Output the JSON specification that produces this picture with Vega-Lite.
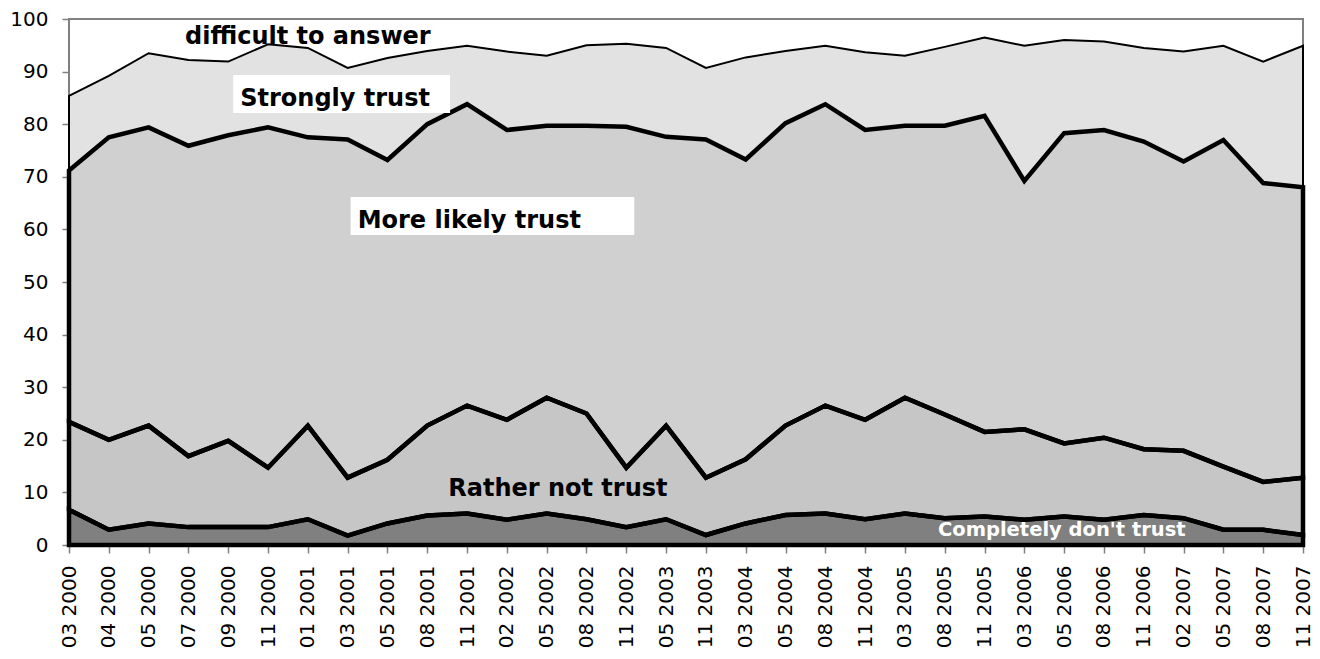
{
"$schema": "https://vega.github.io/schema/vega-lite/v6.json",
"width": 1234, "height": 526,
"autosize": "none",
"padding": {"left": 69, "top": 19, "right": 17, "bottom": 114},
"background": "white",
"config": {"font": "DejaVu Sans", "view": {"stroke": "#808080", "strokeWidth": 2}},
"data": {"values": [
{"d":"03 2000","c":"Completely don't trust","k":1,"v":6.7},{"d":"03 2000","c":"Rather not trust","k":2,"v":16.7},{"d":"03 2000","c":"More likely trust","k":3,"v":47.8},{"d":"03 2000","c":"Strongly trust","k":4,"v":14.2},{"d":"03 2000","c":"Difficult to answer","k":5,"v":14.6},
{"d":"04 2000","c":"Completely don't trust","k":1,"v":2.9},{"d":"04 2000","c":"Rather not trust","k":2,"v":17.1},{"d":"04 2000","c":"More likely trust","k":3,"v":57.5},{"d":"04 2000","c":"Strongly trust","k":4,"v":11.7},{"d":"04 2000","c":"Difficult to answer","k":5,"v":10.8},
{"d":"05 2000","c":"Completely don't trust","k":1,"v":4.1},{"d":"05 2000","c":"Rather not trust","k":2,"v":18.6},{"d":"05 2000","c":"More likely trust","k":3,"v":56.7},{"d":"05 2000","c":"Strongly trust","k":4,"v":14.1},{"d":"05 2000","c":"Difficult to answer","k":5,"v":6.5},
{"d":"07 2000","c":"Completely don't trust","k":1,"v":3.4},{"d":"07 2000","c":"Rather not trust","k":2,"v":13.5},{"d":"07 2000","c":"More likely trust","k":3,"v":59.0},{"d":"07 2000","c":"Strongly trust","k":4,"v":16.3},{"d":"07 2000","c":"Difficult to answer","k":5,"v":7.8},
{"d":"09 2000","c":"Completely don't trust","k":1,"v":3.4},{"d":"09 2000","c":"Rather not trust","k":2,"v":16.4},{"d":"09 2000","c":"More likely trust","k":3,"v":58.1},{"d":"09 2000","c":"Strongly trust","k":4,"v":14.0},{"d":"09 2000","c":"Difficult to answer","k":5,"v":8.1},
{"d":"11 2000","c":"Completely don't trust","k":1,"v":3.4},{"d":"11 2000","c":"Rather not trust","k":2,"v":11.3},{"d":"11 2000","c":"More likely trust","k":3,"v":64.7},{"d":"11 2000","c":"Strongly trust","k":4,"v":15.8},{"d":"11 2000","c":"Difficult to answer","k":5,"v":4.8},
{"d":"01 2001","c":"Completely don't trust","k":1,"v":4.9},{"d":"01 2001","c":"Rather not trust","k":2,"v":17.8},{"d":"01 2001","c":"More likely trust","k":3,"v":54.8},{"d":"01 2001","c":"Strongly trust","k":4,"v":17.0},{"d":"01 2001","c":"Difficult to answer","k":5,"v":5.5},
{"d":"03 2001","c":"Completely don't trust","k":1,"v":1.8},{"d":"03 2001","c":"Rather not trust","k":2,"v":11.0},{"d":"03 2001","c":"More likely trust","k":3,"v":64.3},{"d":"03 2001","c":"Strongly trust","k":4,"v":13.6},{"d":"03 2001","c":"Difficult to answer","k":5,"v":9.3},
{"d":"05 2001","c":"Completely don't trust","k":1,"v":4.1},{"d":"05 2001","c":"Rather not trust","k":2,"v":12.1},{"d":"05 2001","c":"More likely trust","k":3,"v":57.0},{"d":"05 2001","c":"Strongly trust","k":4,"v":19.4},{"d":"05 2001","c":"Difficult to answer","k":5,"v":7.4},
{"d":"08 2001","c":"Completely don't trust","k":1,"v":5.6},{"d":"08 2001","c":"Rather not trust","k":2,"v":17.1},{"d":"08 2001","c":"More likely trust","k":3,"v":57.3},{"d":"08 2001","c":"Strongly trust","k":4,"v":13.9},{"d":"08 2001","c":"Difficult to answer","k":5,"v":6.1},
{"d":"11 2001","c":"Completely don't trust","k":1,"v":6.0},{"d":"11 2001","c":"Rather not trust","k":2,"v":20.5},{"d":"11 2001","c":"More likely trust","k":3,"v":57.3},{"d":"11 2001","c":"Strongly trust","k":4,"v":11.1},{"d":"11 2001","c":"Difficult to answer","k":5,"v":5.1},
{"d":"02 2002","c":"Completely don't trust","k":1,"v":4.8},{"d":"02 2002","c":"Rather not trust","k":2,"v":19.0},{"d":"02 2002","c":"More likely trust","k":3,"v":55.1},{"d":"02 2002","c":"Strongly trust","k":4,"v":14.9},{"d":"02 2002","c":"Difficult to answer","k":5,"v":6.2},
{"d":"05 2002","c":"Completely don't trust","k":1,"v":6.0},{"d":"05 2002","c":"Rather not trust","k":2,"v":22.0},{"d":"05 2002","c":"More likely trust","k":3,"v":51.7},{"d":"05 2002","c":"Strongly trust","k":4,"v":13.3},{"d":"05 2002","c":"Difficult to answer","k":5,"v":7.0},
{"d":"08 2002","c":"Completely don't trust","k":1,"v":4.9},{"d":"08 2002","c":"Rather not trust","k":2,"v":20.1},{"d":"08 2002","c":"More likely trust","k":3,"v":54.7},{"d":"08 2002","c":"Strongly trust","k":4,"v":15.3},{"d":"08 2002","c":"Difficult to answer","k":5,"v":5.0},
{"d":"11 2002","c":"Completely don't trust","k":1,"v":3.4},{"d":"11 2002","c":"Rather not trust","k":2,"v":11.3},{"d":"11 2002","c":"More likely trust","k":3,"v":64.8},{"d":"11 2002","c":"Strongly trust","k":4,"v":15.8},{"d":"11 2002","c":"Difficult to answer","k":5,"v":4.7},
{"d":"05 2003","c":"Completely don't trust","k":1,"v":4.9},{"d":"05 2003","c":"Rather not trust","k":2,"v":17.8},{"d":"05 2003","c":"More likely trust","k":3,"v":54.9},{"d":"05 2003","c":"Strongly trust","k":4,"v":16.9},{"d":"05 2003","c":"Difficult to answer","k":5,"v":5.5},
{"d":"11 2003","c":"Completely don't trust","k":1,"v":1.9},{"d":"11 2003","c":"Rather not trust","k":2,"v":10.9},{"d":"11 2003","c":"More likely trust","k":3,"v":64.3},{"d":"11 2003","c":"Strongly trust","k":4,"v":13.6},{"d":"11 2003","c":"Difficult to answer","k":5,"v":9.3},
{"d":"03 2004","c":"Completely don't trust","k":1,"v":4.1},{"d":"03 2004","c":"Rather not trust","k":2,"v":12.2},{"d":"03 2004","c":"More likely trust","k":3,"v":57.0},{"d":"03 2004","c":"Strongly trust","k":4,"v":19.4},{"d":"03 2004","c":"Difficult to answer","k":5,"v":7.3},
{"d":"05 2004","c":"Completely don't trust","k":1,"v":5.7},{"d":"05 2004","c":"Rather not trust","k":2,"v":17.0},{"d":"05 2004","c":"More likely trust","k":3,"v":57.5},{"d":"05 2004","c":"Strongly trust","k":4,"v":13.7},{"d":"05 2004","c":"Difficult to answer","k":5,"v":6.1},
{"d":"08 2004","c":"Completely don't trust","k":1,"v":6.0},{"d":"08 2004","c":"Rather not trust","k":2,"v":20.5},{"d":"08 2004","c":"More likely trust","k":3,"v":57.3},{"d":"08 2004","c":"Strongly trust","k":4,"v":11.1},{"d":"08 2004","c":"Difficult to answer","k":5,"v":5.1},
{"d":"11 2004","c":"Completely don't trust","k":1,"v":4.9},{"d":"11 2004","c":"Rather not trust","k":2,"v":18.9},{"d":"11 2004","c":"More likely trust","k":3,"v":55.1},{"d":"11 2004","c":"Strongly trust","k":4,"v":14.8},{"d":"11 2004","c":"Difficult to answer","k":5,"v":6.3},
{"d":"03 2005","c":"Completely don't trust","k":1,"v":6.0},{"d":"03 2005","c":"Rather not trust","k":2,"v":22.0},{"d":"03 2005","c":"More likely trust","k":3,"v":51.7},{"d":"03 2005","c":"Strongly trust","k":4,"v":13.3},{"d":"03 2005","c":"Difficult to answer","k":5,"v":7.0},
{"d":"08 2005","c":"Completely don't trust","k":1,"v":5.1},{"d":"08 2005","c":"Rather not trust","k":2,"v":19.7},{"d":"08 2005","c":"More likely trust","k":3,"v":54.9},{"d":"08 2005","c":"Strongly trust","k":4,"v":15.0},{"d":"08 2005","c":"Difficult to answer","k":5,"v":5.3},
{"d":"11 2005","c":"Completely don't trust","k":1,"v":5.4},{"d":"11 2005","c":"Rather not trust","k":2,"v":16.1},{"d":"11 2005","c":"More likely trust","k":3,"v":60.1},{"d":"11 2005","c":"Strongly trust","k":4,"v":14.9},{"d":"11 2005","c":"Difficult to answer","k":5,"v":3.5},
{"d":"03 2006","c":"Completely don't trust","k":1,"v":4.8},{"d":"03 2006","c":"Rather not trust","k":2,"v":17.2},{"d":"03 2006","c":"More likely trust","k":3,"v":47.2},{"d":"03 2006","c":"Strongly trust","k":4,"v":25.7},{"d":"03 2006","c":"Difficult to answer","k":5,"v":5.1},
{"d":"05 2006","c":"Completely don't trust","k":1,"v":5.4},{"d":"05 2006","c":"Rather not trust","k":2,"v":13.9},{"d":"05 2006","c":"More likely trust","k":3,"v":59.0},{"d":"05 2006","c":"Strongly trust","k":4,"v":17.7},{"d":"05 2006","c":"Difficult to answer","k":5,"v":4.0},
{"d":"08 2006","c":"Completely don't trust","k":1,"v":4.8},{"d":"08 2006","c":"Rather not trust","k":2,"v":15.6},{"d":"08 2006","c":"More likely trust","k":3,"v":58.5},{"d":"08 2006","c":"Strongly trust","k":4,"v":16.8},{"d":"08 2006","c":"Difficult to answer","k":5,"v":4.3},
{"d":"11 2006","c":"Completely don't trust","k":1,"v":5.7},{"d":"11 2006","c":"Rather not trust","k":2,"v":12.5},{"d":"11 2006","c":"More likely trust","k":3,"v":58.5},{"d":"11 2006","c":"Strongly trust","k":4,"v":17.8},{"d":"11 2006","c":"Difficult to answer","k":5,"v":5.5},
{"d":"02 2007","c":"Completely don't trust","k":1,"v":5.1},{"d":"02 2007","c":"Rather not trust","k":2,"v":12.8},{"d":"02 2007","c":"More likely trust","k":3,"v":55.0},{"d":"02 2007","c":"Strongly trust","k":4,"v":20.9},{"d":"02 2007","c":"Difficult to answer","k":5,"v":6.2},
{"d":"05 2007","c":"Completely don't trust","k":1,"v":2.9},{"d":"05 2007","c":"Rather not trust","k":2,"v":12.0},{"d":"05 2007","c":"More likely trust","k":3,"v":62.1},{"d":"05 2007","c":"Strongly trust","k":4,"v":17.9},{"d":"05 2007","c":"Difficult to answer","k":5,"v":5.1},
{"d":"08 2007","c":"Completely don't trust","k":1,"v":2.9},{"d":"08 2007","c":"Rather not trust","k":2,"v":9.1},{"d":"08 2007","c":"More likely trust","k":3,"v":56.8},{"d":"08 2007","c":"Strongly trust","k":4,"v":23.1},{"d":"08 2007","c":"Difficult to answer","k":5,"v":8.1},
{"d":"11 2007","c":"Completely don't trust","k":1,"v":1.9},{"d":"11 2007","c":"Rather not trust","k":2,"v":10.9},{"d":"11 2007","c":"More likely trust","k":3,"v":55.2},{"d":"11 2007","c":"Strongly trust","k":4,"v":26.9},{"d":"11 2007","c":"Difficult to answer","k":5,"v":5.1}
]},
"layer": [
{
 "transform": [{"stack": "v", "groupby": ["d"], "sort": [{"field": "k"}], "as": ["y0", "y1"]}],
 "mark": {"type": "area"},
 "encoding": {
  "x": {"field": "d", "type": "ordinal", "sort": null, "scale": {"type": "point", "padding": 0},
        "axis": {"title": null, "labelAngle": -90, "labelFontSize": 20, "labelFont": "DejaVu Sans", "labelColor": "#000", "tickColor": "#808080", "tickSize": 8, "tickWidth": 1.5, "labelPadding": 12, "domain": false, "grid": false}},
  "y": {"field": "y1", "type": "quantitative", "scale": {"domain": [0, 100], "nice": false},
        "axis": {"title": null, "values": [0,10,20,30,40,50,60,70,80,90,100], "labelFontSize": 20, "labelFont": "DejaVu Sans", "labelColor": "#000", "tickColor": "#808080", "tickSize": 7, "tickWidth": 1.5, "labelPadding": 14, "domain": false, "grid": false}},
  "y2": {"field": "y0"},
  "color": {"field": "c", "type": "nominal", "legend": null,
            "scale": {"domain": ["Completely don't trust", "Rather not trust", "More likely trust", "Strongly trust", "Difficult to answer"],
                      "range": ["#808080", "#c6c6c6", "#d0d0d0", "#e2e2e2", "rgba(255,255,255,0)"]}}
 }
},
{
 "transform": [{"stack": "v", "groupby": ["d"], "sort": [{"field": "k"}], "as": ["y0", "y1"]}, {"filter": "datum.k == 4"}],
 "mark": {"type": "area", "fillOpacity": 0, "stroke": "#000", "strokeWidth": 2},
 "encoding": {
  "x": {"field": "d", "type": "ordinal", "sort": null},
  "y": {"field": "y1", "type": "quantitative"},
  "y2": {"field": "y0"},
  "detail": {"field": "c"}
 }
},
{
 "transform": [{"stack": "v", "groupby": ["d"], "sort": [{"field": "k"}], "as": ["y0", "y1"]}, {"filter": "datum.k <= 3"}],
 "mark": {"type": "area", "fillOpacity": 0, "stroke": "#000", "strokeWidth": 4.5},
 "encoding": {
  "x": {"field": "d", "type": "ordinal", "sort": null},
  "y": {"field": "y1", "type": "quantitative"},
  "y2": {"field": "y0"},
  "detail": {"field": "c"}
 }
},
{
 "data": {"values": [{}]},
 "mark": {"type": "rect", "color": "white", "xOffset": 5, "x2Offset": -17},
 "encoding": {"x": {"datum": "09 2000", "type": "ordinal"}, "x2": {"datum": "11 2001"}, "y": {"datum": 89.35, "type": "quantitative"}, "y2": {"datum": 82.13}}
},
{
 "data": {"values": [{}]},
 "mark": {"type": "rect", "color": "white", "xOffset": 3, "x2Offset": 8},
 "encoding": {"x": {"datum": "03 2001", "type": "ordinal"}, "x2": {"datum": "11 2002"}, "y": {"datum": 66.16, "type": "quantitative"}, "y2": {"datum": 58.94}}
},
{
 "data": {"values": [{"t": "difficult to answer"}]},
 "mark": {"type": "text", "font": "DejaVu Sans", "fontSize": 24, "fontWeight": "bold", "align": "center", "baseline": "alphabetic", "color": "#000"},
 "encoding": {"x": {"datum": "01 2001", "type": "ordinal"}, "y": {"datum": 95.25, "type": "quantitative"}, "text": {"field": "t"}}
},
{
 "data": {"values": [{"t": "Strongly trust"}]},
 "mark": {"type": "text", "font": "DejaVu Sans", "fontSize": 24, "fontWeight": "bold", "align": "left", "baseline": "alphabetic", "dx": 12, "color": "#000"},
 "encoding": {"x": {"datum": "09 2000", "type": "ordinal"}, "y": {"datum": 83.5, "type": "quantitative"}, "text": {"field": "t"}}
},
{
 "data": {"values": [{"t": "More likely trust"}]},
 "mark": {"type": "text", "font": "DejaVu Sans", "fontSize": 24, "fontWeight": "bold", "align": "left", "baseline": "alphabetic", "dx": 10, "color": "#000"},
 "encoding": {"x": {"datum": "03 2001", "type": "ordinal"}, "y": {"datum": 60.36, "type": "quantitative"}, "text": {"field": "t"}}
},
{
 "data": {"values": [{"t": "Rather not trust"}]},
 "mark": {"type": "text", "font": "DejaVu Sans", "fontSize": 24, "fontWeight": "bold", "align": "left", "baseline": "alphabetic", "dx": 21, "color": "#000"},
 "encoding": {"x": {"datum": "08 2001", "type": "ordinal"}, "y": {"datum": 9.3, "type": "quantitative"}, "text": {"field": "t"}}
},
{
 "data": {"values": [{"t": "Completely don't trust"}]},
 "mark": {"type": "text", "font": "DejaVu Sans", "fontSize": 19.5, "fontWeight": "bold", "align": "left", "baseline": "alphabetic", "dx": 33, "color": "#ffffff"},
 "encoding": {"x": {"datum": "03 2005", "type": "ordinal"}, "y": {"datum": 1.71, "type": "quantitative"}, "text": {"field": "t"}}
}
]
}
